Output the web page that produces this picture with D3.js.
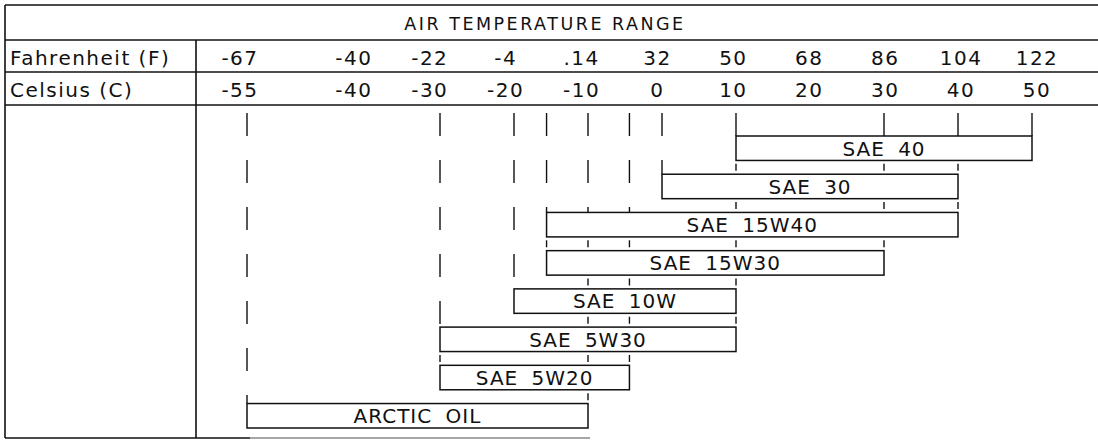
<!DOCTYPE html>
<html>
<head>
<meta charset="utf-8">
<script src="https://cdn.jsdelivr.net/npm/d3@7"></script>
<style>
  html, body { margin: 0; padding: 0; background: #fff; }
  svg { display: block; }
  text { font-family: "DejaVu Sans", "Liberation Sans", sans-serif; fill: #111; }
</style>
</head>
<body>
<svg id="chart" width="1098" height="441"></svg>
<script>
// ---- data ----
const title = "AIR TEMPERATURE RANGE";
const rowLabels = ["Fahrenheit (F)", "Celsius (C)"];
const celsiusTicks = [-55, -40, -30, -20, -10, 0, 10, 20, 30, 40, 50];
const celsiusLabels = ["-55", "-40", "-30", "-20", "-10", "0", "10", "20", "30", "40", "50"];
const fahrenheitLabels = ["-67", "-40", "-22", "-4", ".14", "32", "50", "68", "86", "104", "122"];
const oils = ["SAE 40", "SAE 30", "SAE 15W40", "SAE 15W30", "SAE 10W", "SAE 5W30", "SAE 5W20", "ARCTIC OIL"];
const rangeLow = [10, 0, -15.6, -15.6, -20, -30, -30, -55];   // °C
const rangeHigh = [50, 40, 40, 30, 10, 10, -4.4, -10];         // °C

// ---- layout ----
const W = 1098, H = 441;
const frameL = 5, frameT = 5, divX = 196;
const rowY = [40, 72, 105];
const bottomY = 438;
const svg = d3.select("#chart");

// scales
const x = d3.scaleLinear().domain([-55, -30, 50]).range([247, 440, 1032]);
const xLabel = d3.scaleLinear().domain([-55, 50]).range([240, 1037]);
const y = d3.scaleBand().domain(oils).range([136, 428]).paddingInner(0.36).paddingOuter(0);

const ink = "#111";

// ---- guide lines (from bar edges) ----
const bars = oils.map((name, i) => ({ name, i, lo: rangeLow[i], hi: rangeHigh[i] }));
const edges = Array.from(new Set(bars.flatMap(b => [b.lo, b.hi]))).sort((a, b) => a - b);
const eps = 0.01;
const guideG = svg.append("g");
edges.forEach(g => {
  const covering = bars.filter(b => b.lo - eps <= g && g <= b.hi + eps).map(b => b.i);
  const withEdge = bars.filter(b => Math.abs(b.lo - g) < eps || Math.abs(b.hi - g) < eps).map(b => b.i);
  const first = d3.min(covering), last = d3.max(withEdge);
  const gx = x(g);
  guideG.append("line")
    .attr("x1", gx).attr("x2", gx)
    .attr("y1", 113).attr("y2", y(oils[first]))
    .attr("stroke", ink).attr("stroke-width", 1.4)
    .attr("stroke-dasharray", "23,24");
  for (let r = first; r < last; r++) {
    const gapTop = y(oils[r]) + y.bandwidth();
    const gapBot = y(oils[r + 1]);
    const mid = (gapTop + gapBot) / 2;
    guideG.append("line")
      .attr("x1", gx).attr("x2", gx)
      .attr("y1", mid - 3.5).attr("y2", mid + 3.5)
      .attr("stroke", ink).attr("stroke-width", 1.4);
  }
});

// ---- bars ----
const barG = svg.append("g").selectAll("g").data(bars).join("g");
barG.append("rect")
  .attr("x", d => x(d.lo))
  .attr("y", d => y(d.name))
  .attr("width", d => x(d.hi) - x(d.lo))
  .attr("height", y.bandwidth())
  .attr("fill", "#fff")
  .attr("stroke", ink).attr("stroke-width", 1.5);
barG.append("text")
  .attr("x", d => (x(d.lo) + x(d.hi)) / 2)
  .attr("y", d => y(d.name) + y.bandwidth() / 2 + 7.3)
  .attr("text-anchor", "middle")
  .attr("font-size", 20)
  .style("letter-spacing", "1px")
  .style("word-spacing", "6px")
  .text(d => d.name);

// ---- frame ----
const frame = svg.append("g").attr("stroke", ink).attr("stroke-width", 1.6);
frame.append("line").attr("x1", frameL).attr("x2", W).attr("y1", frameT).attr("y2", frameT);
rowY.forEach(yy => frame.append("line").attr("x1", frameL).attr("x2", W).attr("y1", yy).attr("y2", yy));
frame.append("line").attr("x1", frameL).attr("x2", frameL).attr("y1", frameT).attr("y2", bottomY);
frame.append("line").attr("x1", divX).attr("x2", divX).attr("y1", rowY[0]).attr("y2", bottomY);
frame.append("line").attr("x1", frameL).attr("x2", 250).attr("y1", bottomY).attr("y2", bottomY);
svg.append("line").attr("x1", 250).attr("x2", 590).attr("y1", bottomY).attr("y2", bottomY)
  .attr("stroke", "#888").attr("stroke-width", 1.6);

// ---- header text ----
svg.append("text")
  .attr("x", 545).attr("y", 30)
  .attr("text-anchor", "middle")
  .attr("font-size", 17.5)
  .style("letter-spacing", "2.5px")
  .text(title);

const rowBase = [65, 97];
rowLabels.forEach((t, i) => {
  svg.append("text").attr("x", 10).attr("y", rowBase[i])
    .attr("font-size", 20).style("letter-spacing", "1.5px").text(t);
});

svg.append("g").selectAll("text").data(celsiusTicks).join("text")
  .attr("x", d => xLabel(d)).attr("y", rowBase[0])
  .attr("text-anchor", "middle").attr("font-size", 20).style("letter-spacing", "1.5px")
  .text((d, i) => fahrenheitLabels[i]);

svg.append("g").selectAll("text").data(celsiusTicks).join("text")
  .attr("x", d => xLabel(d)).attr("y", rowBase[1])
  .attr("text-anchor", "middle").attr("font-size", 20).style("letter-spacing", "1.5px")
  .text((d, i) => celsiusLabels[i]);
</script>
</body>
</html>
